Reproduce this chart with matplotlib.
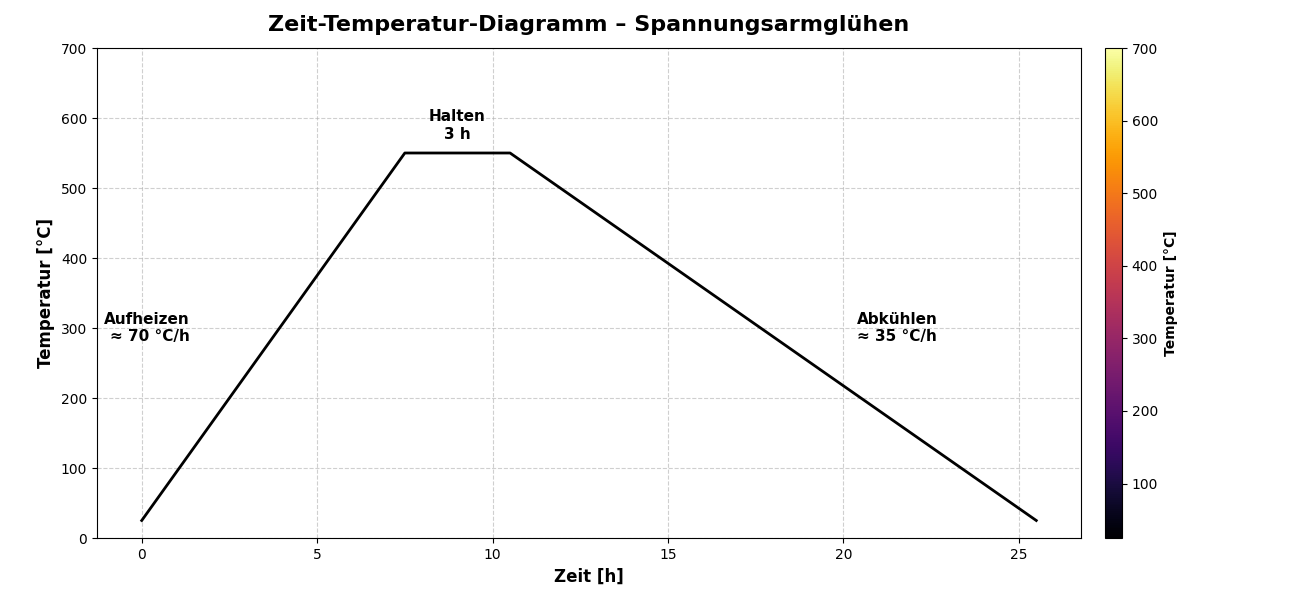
import matplotlib
matplotlib.use('Agg')
import matplotlib.pyplot as plt
import numpy as np
from matplotlib.cm import ScalarMappable
from matplotlib.colors import Normalize

# Zeit-Temperatur Verlauf
zeit = [0, 7.5, 10.5, 25.5]
temperatur = [25, 550, 550, 25]

fig = plt.figure(figsize=(13.02, 6), dpi=100)
ax = fig.add_axes([97 / 1302, 62 / 600, 984 / 1302, 490 / 600])
cax = fig.add_axes([1105 / 1302, 62 / 600, 17 / 1302, 490 / 600])

ax.plot(zeit, temperatur, color='black', linewidth=2)
ax.set_ylim(0, 700)
ax.grid(True, linestyle='--', alpha=0.6)

ax.set_xlabel('Zeit [h]', fontsize=12, fontweight='bold')
ax.set_ylabel('Temperatur [°C]', fontsize=12, fontweight='bold')
ax.set_title('Zeit-Temperatur-Diagramm – Spannungsarmglühen', fontsize=16,
             fontweight='bold', pad=12)

ax.text(1.37, 300, 'Aufheizen\n≈ 70 °C/h', ha='right', va='center',
        fontsize=11, fontweight='bold')
ax.text(9, 566, 'Halten\n3 h', ha='center', va='bottom',
        fontsize=11, fontweight='bold')
ax.text(20.4, 300, 'Abkühlen\n≈ 35 °C/h', ha='left', va='center',
        fontsize=11, fontweight='bold')

sm = ScalarMappable(norm=Normalize(vmin=25, vmax=700), cmap='inferno')
cb = fig.colorbar(sm, cax=cax)
cb.set_label('Temperatur [°C]', fontsize=10, fontweight='bold')

fig.savefig('out.png', dpi=100)
